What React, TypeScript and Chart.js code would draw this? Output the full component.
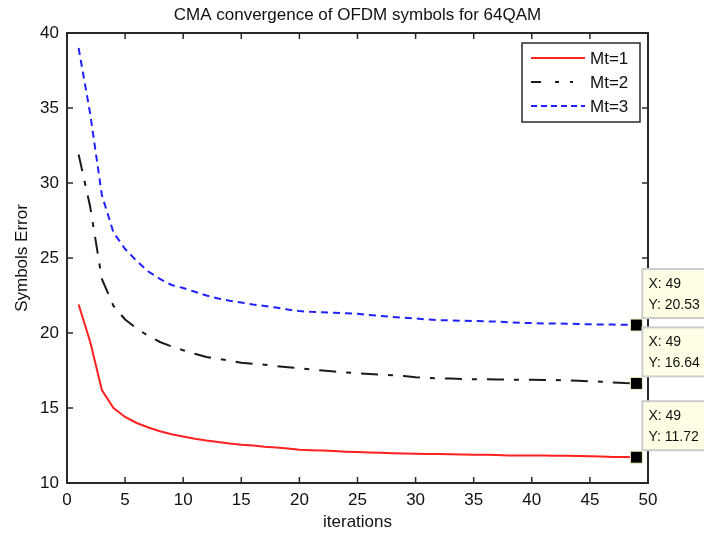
import React, { useEffect, useRef } from "react";
import { Chart, registerables } from "chart.js";

Chart.register(...registerables);

const TITLE = "CMA convergence of OFDM symbols for 64QAM";
const X_TITLE = "iterations";
const Y_TITLE = "Symbols Error";
const SERIES_NAMES = ["Mt=1", "Mt=2", "Mt=3"];
const ITERATIONS = Array.from({ length: 49 }, (_, i) => i + 1);

const MT1 = [
  21.9, 19.4, 16.2, 15.0, 14.4, 14.0, 13.7, 13.45, 13.25, 13.1,
  12.95, 12.83, 12.73, 12.63, 12.55, 12.5, 12.42, 12.36, 12.3, 12.22,
  12.19, 12.16, 12.13, 12.09, 12.06, 12.04, 12.01, 11.98, 11.96, 11.95,
  11.94, 11.93, 11.92, 11.9, 11.89, 11.88, 11.86, 11.84, 11.84, 11.83,
  11.83, 11.82, 11.81, 11.8, 11.79, 11.76, 11.74, 11.73, 11.72,
];
const MT2 = [
  31.9, 28.4, 23.6, 21.8, 20.9, 20.3, 19.8, 19.4, 19.1, 18.85,
  18.62, 18.4, 18.28, 18.15, 18.02, 17.95, 17.88, 17.8, 17.72, 17.65,
  17.58, 17.5, 17.43, 17.37, 17.31, 17.27, 17.23, 17.18, 17.13, 17.05,
  17.0, 16.98, 16.96, 16.94, 16.92, 16.91, 16.9, 16.89, 16.88, 16.88,
  16.87, 16.86, 16.84, 16.81, 16.78, 16.75, 16.7, 16.66, 16.64,
];
const MT3 = [
  39.0, 34.6, 29.2, 26.7, 25.6, 24.8, 24.1, 23.6, 23.2, 23.0,
  22.75, 22.5, 22.3, 22.15, 22.03, 21.9, 21.8, 21.7, 21.56, 21.46,
  21.41, 21.38, 21.35, 21.32, 21.28, 21.2, 21.13, 21.07, 21.02, 20.97,
  20.9, 20.86, 20.84, 20.82, 20.8, 20.78, 20.76, 20.72, 20.68, 20.66,
  20.64, 20.63, 20.62, 20.6, 20.58, 20.57, 20.56, 20.55, 20.53,
];

const X_TICKS = [0, 5, 10, 15, 20, 25, 30, 35, 40, 45, 50];
const Y_TICKS = [10, 15, 20, 25, 30, 35, 40];

const COLORS = ["#ff2020", "#1a1a1a", "#2020ff"];
const DASHES: number[][] = [[], [17, 10, 5, 10], [7, 5]];
const LEGEND_DASHES: number[][] = [[], [10, 14, 4, 11, 3, 30], [6, 4]];
const FONT = "'Liberation Sans', Arial, sans-serif";

const overlayPlugin = {
  id: "matlabOverlay",
  afterDatasetsDraw(chart: any) {
    const { ctx, chartArea: a, scales } = chart;
    const xs = scales.x;
    const ys = scales.y;
    ctx.save();
    // box
    ctx.strokeStyle = "#2a2a2a";
    ctx.lineWidth = 2;
    ctx.setLineDash([]);
    ctx.strokeRect(a.left, a.top, a.right - a.left, a.bottom - a.top);
    // inward ticks
    ctx.lineWidth = 1.5;
    const tl = 6;
    X_TICKS.forEach((v) => {
      const px = xs.getPixelForValue(v);
      ctx.beginPath();
      ctx.moveTo(px, a.bottom);
      ctx.lineTo(px, a.bottom - tl);
      ctx.moveTo(px, a.top);
      ctx.lineTo(px, a.top + tl);
      ctx.stroke();
    });
    Y_TICKS.forEach((v) => {
      const py = ys.getPixelForValue(v);
      ctx.beginPath();
      ctx.moveTo(a.left, py);
      ctx.lineTo(a.left + tl, py);
      ctx.moveTo(a.right, py);
      ctx.lineTo(a.right - tl, py);
      ctx.stroke();
    });

    // markers + datatips
    const series = [MT3, MT2, MT1];
    series.forEach((arr) => {
      const xi = ITERATIONS[ITERATIONS.length - 1];
      const yv = arr[arr.length - 1];
      const mx = xs.getPixelForValue(xi);
      const my = ys.getPixelForValue(yv);
      ctx.fillStyle = "#000";
      ctx.strokeStyle = "#f4f0c0";
      ctx.lineWidth = 1;
      ctx.fillRect(mx - 6, my - 6, 12, 12);
      ctx.strokeRect(mx - 6, my - 6, 12, 12);
      const bx = mx + 6;
      const bb = my - 7;
      const bh = 49;
      ctx.fillStyle = "#ffffe6";
      ctx.fillRect(bx, bb - bh, 80, bh);
      ctx.strokeStyle = "#cccccc";
      ctx.lineWidth = 2;
      ctx.strokeRect(bx, bb - bh, 80, bh);
      ctx.fillStyle = "#111";
      ctx.font = `14px ${FONT}`;
      ctx.textAlign = "left";
      ctx.textBaseline = "alphabetic";
      ctx.fillText(`X: ${xi}`, bx + 6, bb - bh + 19);
      ctx.fillText(`Y: ${yv.toFixed(2)}`, bx + 6, bb - bh + 40);
    });

    // legend
    const lx = 522, ly = 43, lw = 118, lh = 79;
    ctx.fillStyle = "#fff";
    ctx.fillRect(lx, ly, lw, lh);
    ctx.strokeStyle = "#2a2a2a";
    ctx.lineWidth = 1.5;
    ctx.setLineDash([]);
    ctx.strokeRect(lx, ly, lw, lh);
    SERIES_NAMES.forEach((name, i) => {
      const yy = ly + 15 + i * 24;
      ctx.strokeStyle = COLORS[i];
      ctx.lineWidth = 2;
      ctx.setLineDash(LEGEND_DASHES[i]);
      ctx.beginPath();
      ctx.moveTo(lx + 9, yy);
      ctx.lineTo(lx + 63, yy);
      ctx.stroke();
      ctx.setLineDash([]);
      ctx.fillStyle = "#111";
      ctx.font = `17px ${FONT}`;
      ctx.textAlign = "left";
      ctx.textBaseline = "middle";
      ctx.fillText(name, lx + 68, yy + 1);
    });

    // titles
    ctx.fillStyle = "#111";
    ctx.font = `17px ${FONT}`;
    ctx.textAlign = "center";
    ctx.textBaseline = "alphabetic";
    ctx.fillText(TITLE, (a.left + a.right) / 2, 20);
    ctx.fillText(X_TITLE, (a.left + a.right) / 2, 527);
    ctx.save();
    ctx.translate(27, (a.top + a.bottom) / 2);
    ctx.rotate(-Math.PI / 2);
    ctx.fillText(Y_TITLE, 0, 0);
    ctx.restore();
    ctx.restore();
  },
};

export default function App() {
  const ref = useRef<HTMLCanvasElement | null>(null);
  useEffect(() => {
    if (!ref.current) return;
    const mk = (arr: number[]) => ITERATIONS.map((x, i) => ({ x, y: arr[i] }));
    const chart = new Chart(ref.current, {
      type: "line",
      data: {
        datasets: [MT1, MT2, MT3].map((arr, i) => ({
          label: SERIES_NAMES[i],
          data: mk(arr),
          borderColor: COLORS[i],
          borderWidth: 2,
          borderDash: DASHES[i],
          pointRadius: 0,
          tension: 0,
          fill: false,
        })),
      },
      options: {
        responsive: false,
        animation: false,
        layout: { padding: { top: 33, right: 56, left: 0, bottom: 0 } },
        plugins: { legend: { display: false }, tooltip: { enabled: false }, title: { display: false } },
        scales: {
          x: {
            type: "linear",
            min: 0,
            max: 50,
            afterFit: (s: any) => { s.height = 50; },
            afterBuildTicks: (s: any) => { s.ticks = X_TICKS.map((v) => ({ value: v })); },
            grid: { display: false, drawTicks: false },
            border: { display: false },
            ticks: { color: "#111", font: { family: FONT, size: 17 }, padding: 7, maxRotation: 0, autoSkip: false },
          },
          y: {
            type: "linear",
            min: 10,
            max: 40,
            afterFit: (s: any) => { s.width = 67; },
            afterBuildTicks: (s: any) => { s.ticks = Y_TICKS.map((v) => ({ value: v })); },
            grid: { display: false, drawTicks: false },
            border: { display: false },
            ticks: { color: "#111", font: { family: FONT, size: 17 }, padding: 8, autoSkip: false },
          },
        },
      },
      plugins: [overlayPlugin],
    } as any);
    return () => chart.destroy();
  }, []);
  return (
    <div style={{ position: "absolute", left: 0, top: 0, width: 704, height: 533, background: "#fff" }}>
      <canvas ref={ref} width={704} height={533} style={{ display: "block" }} />
    </div>
  );
}
